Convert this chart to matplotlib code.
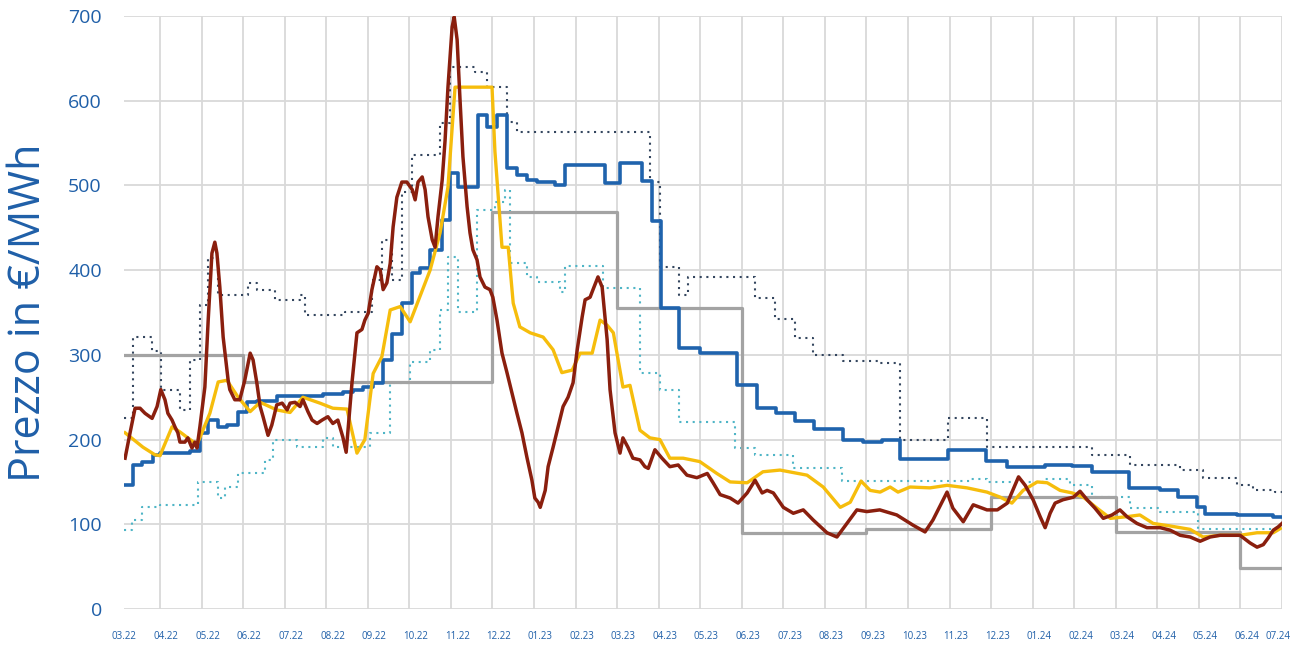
import matplotlib
matplotlib.use("Agg")
import matplotlib.pyplot as plt

# x positions are in months since 1 March 2022 (1.0 = 01.04.2022)
red_t = [0.16,0.28,0.40,0.52,0.64,0.81,0.93,1.02,1.12,1.19,1.29,1.36,1.43,1.48,1.60,1.67,1.77,1.84,1.89,
         1.96,2.08,2.16,2.25,2.32,2.37,2.44,2.52,2.61,2.64,2.68,2.80,2.92,3.04,3.17,3.24,3.33,3.41,3.48,
         3.60,3.69,3.81,3.94,4.06,4.13,4.25,4.37,4.44,4.56,4.66,4.78,4.90,5.04,5.16,5.28,5.40,5.48,5.52,
         5.62,5.74,5.86,5.93,6.01,6.10,6.22,6.30,6.37,6.46,6.54,6.61,6.70,6.82,6.94,7.07,7.14,7.21,7.31,
         7.38,7.45,7.55,7.62,7.69,7.79,7.86,7.93,8.03,8.08,8.15,8.22,8.29,8.39,8.46,8.53,8.63,8.70,8.82,
         8.94,9.01,9.11,9.23,9.35,9.47,9.59,9.71,9.83,9.95,10.02,10.10,10.15,10.27,10.34,10.46,10.58,10.70,
         10.82,10.94,11.04,11.16,11.23,11.35,11.42,11.54,11.64,11.76,11.83,11.95,12.07,12.14,12.26,12.38,
         12.55,12.67,12.75,12.91,13.08,13.27,13.47,13.68,13.92,14.17,14.31,14.48,14.72,14.91,15.13,15.32,
         15.49,15.61,15.76,16.00,16.24,16.48,16.72,17.05,17.29,17.53,17.77,18.01,18.32,18.73,19.12,19.41,
         19.60,19.94,20.08,20.33,20.57,20.90,21.15,21.39,21.66,21.82,22.01,22.18,22.30,22.42,22.54,22.73,
         22.98,23.14,23.31,23.50,23.70,23.91,24.10,24.27,24.51,24.75,25.07,25.31,25.55,25.79,26.03,26.27,
         26.51,26.75,26.99,27.23,27.40,27.55,27.67,27.79,27.91,28.00]
red_v = [178,208,237,237,231,225,239,259,247,231,223,215,208,197,197,202,190,197,190,
         215,262,341,420,433,420,380,321,282,270,259,247,247,270,302,294,267,239,227,
         205,217,241,243,235,243,244,239,247,233,223,219,223,227,219,223,203,185,208,
         267,326,330,341,349,377,404,400,377,385,408,451,486,504,504,495,483,504,510,
         495,463,436,427,463,506,553,616,687,699,672,601,534,475,444,424,412,392,380,
         377,368,341,302,279,255,231,208,179,152,131,126,120,140,168,191,215,239,
         250,267,306,345,365,368,377,392,380,318,259,208,184,202,191,178,
         176,168,166,188,178,168,170,158,155,160,149,135,131,125,137,152,
         137,140,137,120,113,117,105,90,85,101,117,115,117,111,99,91,
         105,138,119,103,123,117,117,125,156,146,129,109,96,113,125,129,
         132,139,129,119,107,111,117,109,101,96,96,93,87,85,80,85,
         87,87,87,78,73,76,84,93,97,101]

yellow_t = [0.16,0.59,0.88,1.00,1.29,1.48,1.89,2.20,2.40,2.61,2.88,3.17,3.41,3.81,4.13,4.44,4.85,5.16,5.50,
            5.74,5.93,6.13,6.34,6.54,6.78,7.02,7.50,7.74,7.93,8.10,8.99,9.06,9.23,9.38,9.50,9.66,9.91,
            10.22,10.46,10.67,10.92,11.11,11.40,11.59,11.76,11.91,12.14,12.31,12.55,12.79,13.03,13.27,
            13.59,13.99,14.40,14.72,15.13,15.51,15.92,16.57,16.96,17.37,17.61,17.87,18.09,18.33,18.57,
            18.76,19.05,19.53,19.94,20.42,20.90,21.22,21.50,21.77,22.11,22.35,22.66,22.95,23.22,23.55,
            23.87,24.27,24.58,24.90,25.31,25.79,26.10,26.51,26.99,27.40,27.79,27.96]
yellow_v = [208,191,182,181,215,209,194,231,268,270,250,233,244,235,232,250,243,237,236,
            184,200,278,298,353,357,339,400,444,498,616,616,540,427,427,361,333,326,
            321,306,279,282,302,302,341,335,326,262,264,211,202,200,178,
            178,174,160,150,149,162,164,158,144,120,126,151,140,138,144,
            138,144,143,146,143,138,132,125,140,150,149,140,137,132,119,
            107,109,111,101,98,94,85,87,87,90,90,95]

blue_t = [0.13,0.35,0.57,0.83,1.00,1.72,1.96,2.16,2.40,2.61,2.88,3.10,3.34,3.82,4.92,5.41,5.65,5.89,6.13,
          6.37,6.59,6.83,7.07,7.26,7.50,7.79,7.98,8.17,8.65,8.87,9.11,9.35,9.59,9.83,10.07,10.51,10.75,
          11.71,12.07,12.60,12.84,13.06,13.49,14.00,14.89,15.37,15.83,16.28,16.74,17.44,17.92,18.38,
          18.81,19.97,20.88,21.39,22.30,22.95,23.43,24.32,25.07,25.50,25.96,26.15,26.92,27.79,28.00]
blue_v = [146,170,174,182,184,187,208,223,215,217,232,244,246,251,254,256,259,262,267,
          294,325,361,397,403,424,459,515,498,583,569,583,520,512,506,504,500,524,
          503,527,505,458,355,308,302,264,237,231,222,212,200,197,199,
          177,188,175,168,170,169,162,143,140,132,120,112,111,109,109]

gray_t = [0.13,3.0,9.0,12.0,15.0,18.0,21.0,24.0,27.0,28.0]
gray_v = [300,268,469,355,90,94,132,91,48,48]

upper_t = [0.13,0.35,0.81,1.02,1.48,1.72,1.96,2.16,2.40,3.12,3.33,3.77,4.37,4.49,5.45,6.10,6.34,6.59,
           6.83,7.07,7.74,7.98,8.58,8.87,9.35,9.59,12.79,13.03,13.49,13.71,15.32,15.80,16.28,16.71,
           17.44,18.33,18.81,19.97,20.90,23.43,24.35,25.55,26.10,26.92,27.31,27.84,28.00]
upper_v = [225,321,304,258,235,294,359,414,371,385,377,365,371,347,351,388,436,388,
           492,536,574,640,634,616,575,563,504,404,371,392,367,342,320,300,
           293,290,200,226,191,182,170,164,155,146,141,138,138]

lower_t = [0.13,0.33,0.57,1.00,1.91,2.40,2.56,2.88,3.53,3.72,4.30,4.92,5.16,6.05,6.54,7.02,7.50,7.74,
           7.93,8.17,8.63,9.06,9.30,9.42,9.83,10.07,10.63,10.75,11.66,12.55,13.03,13.49,14.84,15.32,
           16.24,17.42,20.50,20.90,22.25,22.90,23.43,24.35,25.07,25.98,28.00]
lower_v = [93,105,120,123,150,131,144,160,176,199,191,202,191,208,267,292,306,353,
           416,351,471,481,495,408,392,386,374,405,379,279,258,221,190,182,
           166,151,154,150,153,146,132,119,115,94,94]

y_ticks = [0, 100, 200, 300, 400, 500, 600, 700]
x_labels = ["03.22","04.22","05.22","06.22","07.22","08.22","09.22","10.22","11.22","12.22",
            "01.23","02.23","03.23","04.23","05.23","06.23","07.23","08.23","09.23","10.23",
            "11.23","12.23","01.24","02.24","03.24","04.24","05.24","06.24","07.24"]
y_title = "Prezzo in €/MWh"

TXT = "#1f5fa8"
plt.rcParams['font.family'] = ['Open Sans', 'DejaVu Sans']

fig = plt.figure(figsize=(12.92, 6.45), dpi=100)
ax = fig.add_axes([124/1292, 1-609/645, (1282-124)/1292, (609-16)/645])

for y in y_ticks:
    ax.axhline(y, color="#d9d9d9", lw=1.3, zorder=0)
for k in range(1, 29):
    ax.axvline(k, color="#d9d9d9", lw=1.3, zorder=0)

ax.step(lower_t, lower_v, where="post", color="#4fb5c6", lw=1.5, ls=(0, (1, 2.2)), zorder=2)
ax.step(upper_t, upper_v, where="post", color="#34465f", lw=1.5, ls=(0, (1, 2.2)), zorder=2)
ax.step(gray_t, gray_v, where="post", color="#a3a3a3", lw=2.3, zorder=3)
ax.step(blue_t, blue_v, where="post", color="#1f63ad", lw=2.6, zorder=4)
ax.plot(yellow_t, yellow_v, color="#f6bd0c", lw=2.4, zorder=5)
ax.plot(red_t, red_v, color="#8a1f0e", lw=2.5, zorder=6)

ax.set_xlim(0.134, 28.0)
ax.set_ylim(0, 700)
for s in ax.spines.values():
    s.set_visible(False)

ax.set_yticks(y_ticks)
ax.set_yticklabels([str(v) for v in y_ticks], color=TXT, fontsize=14)
ax.tick_params(axis="y", length=0, pad=16)

xpos = [k + 0.15 for k in range(28)] + [27.9]
xpos[0] = 0.134
ax.set_xticks(xpos)
ax.set_xticklabels(x_labels, color=TXT, fontsize=7)
ax.tick_params(axis="x", length=0, pad=16)

ax.set_ylabel(y_title, color=TXT, fontsize=31, labelpad=12)

fig.savefig("out.png", dpi=100)
